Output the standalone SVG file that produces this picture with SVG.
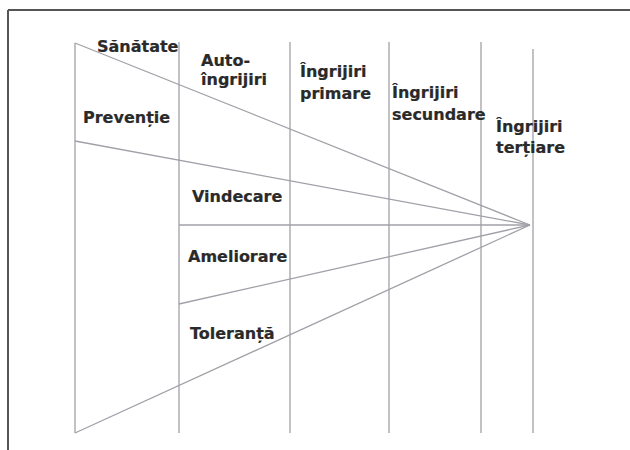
<svg xmlns="http://www.w3.org/2000/svg" width="630" height="450" viewBox="0 0 630 450">
<style>
.fr{stroke:#555;stroke-width:2;fill:none}
.v{stroke:#a8a8ae;stroke-width:1.4;fill:none}
.l{stroke:#a0a0a8;stroke-width:1.3;fill:none}
text{font-family:"DejaVu Sans",Verdana,sans-serif;font-weight:bold;font-size:16px;fill:#2a2a2a;stroke:#2a2a2a;stroke-width:0.2}
</style>
<rect width="630" height="450" fill="#fff"/>
<g id="frame">
<line class="fr" x1="8" y1="10" x2="630" y2="10"/>
<line class="fr" x1="8" y1="10" x2="8" y2="450"/>
</g>
<g id="columns">
<line class="v" x1="75" y1="43" x2="75" y2="433"/>
<line class="v" x1="179" y1="42" x2="179" y2="433"/>
<line class="v" x1="290" y1="42" x2="290" y2="433"/>
<line class="v" x1="389" y1="42" x2="389" y2="433"/>
<line class="v" x1="481" y1="42" x2="481" y2="433"/>
<line class="v" x1="533" y1="49" x2="533" y2="433"/>
</g>
<g id="connectors">
<line class="l" x1="75" y1="43" x2="530" y2="225"/>
<line class="l" x1="75" y1="141" x2="530" y2="225"/>
<line class="l" x1="179" y1="225" x2="530" y2="225"/>
<line class="l" x1="179" y1="304" x2="530" y2="225"/>
<line class="l" x1="75" y1="433" x2="530" y2="225"/>
</g>
<g id="sanatate"><text x="97" y="52">Sănătate</text></g>
<g id="prevention"><text x="83" y="123">Prevenție</text></g>
<g id="auto"><text x="201" y="66">Auto-</text><text x="201" y="85">îngrijiri</text></g>
<g id="primare"><text x="300" y="77">Îngrijiri</text><text x="300" y="99">primare</text></g>
<g id="secundare"><text x="392" y="98">Îngrijiri</text><text x="392" y="120">secundare</text></g>
<g id="tertiare"><text x="496" y="132">Îngrijiri</text><text x="496" y="153">terțiare</text></g>
<g id="vindecare"><text x="192" y="202">Vindecare</text></g>
<g id="ameliorare"><text x="188" y="262">Ameliorare</text></g>
<g id="toleranta"><text x="190" y="339">Toleranță</text></g>
</svg>
